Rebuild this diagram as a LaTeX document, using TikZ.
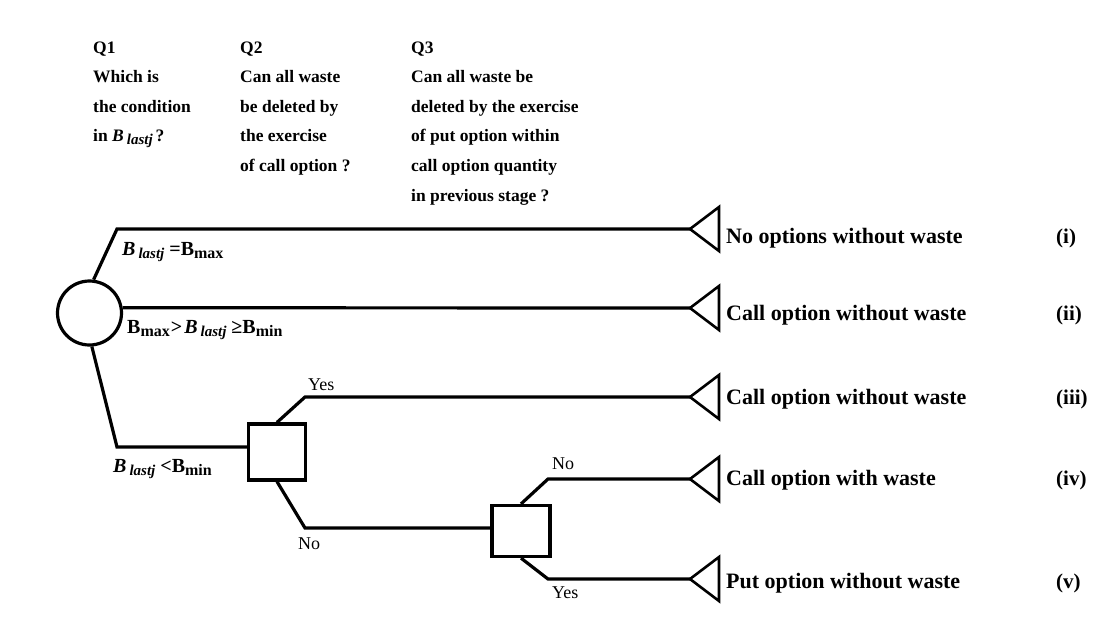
\documentclass[tikz,border=0pt]{standalone}
\usepackage{fontspec}
\setmainfont{Liberation Serif}
\newcommand\fsz[1]{\fontsize{#1}{#1}\selectfont}
% B with an italic "lastj" subscript
\newcommand\Blast{\textbf{\textit{B}}\hspace{3pt}\raisebox{-3pt}{\fsz{15}\textit{lastj}}\hspace{5pt}}
\newcommand\Bsub[1]{\textbf{B}\raisebox{-3pt}{\fsz{16}\textbf{#1}}}
\begin{document}
\begin{tikzpicture}[x=1pt,y=-1pt,
  branch/.style={line width=3.2pt,line join=miter},
  chance/.style={circle,draw,line width=3.2pt,minimum size=64pt,inner sep=0pt},
  choice/.style={rectangle,draw,line width=3.2pt,minimum width=57pt,minimum height=56pt,inner sep=0pt},
  endtri/.style={line width=2.6pt,line join=miter},
  hdr/.style={anchor=base west,inner sep=0pt,font=\fsz{17.5}\bfseries},
  cond/.style={anchor=base west,inner sep=0pt,font=\fsz{20}\bfseries},
  ans/.style={anchor=base west,inner sep=0pt,font=\fsz{18}},
  outc/.style={anchor=base west,inner sep=0pt,font=\fsz{22}\bfseries},
  tag/.style={anchor=base west,inner sep=0pt,font=\fsz{21}\bfseries}]
\useasboundingbox[fill=white] (0,0) rectangle (1103,640);

% question headers
\foreach \t [count=\i] in {Q1,Which is,the condition,{in \Blast\hspace{-2pt}?}}
  \node[hdr] (qa-\i) at (93,{53+29.6*(\i-1)}) {\t};
\foreach \t [count=\i] in {Q2,Can all waste,be deleted by,the exercise,of call option ?}
  \node[hdr] (qb-\i) at (240,{53+29.6*(\i-1)}) {\t};
\foreach \t [count=\i] in {Q3,Can all waste be,deleted by the exercise,of put option within,call option quantity,in previous stage ?}
  \node[hdr] (qc-\i) at (411,{53+29.6*(\i-1)}) {\t};

% decision nodes
\node[chance] (c) at (89.5,313) {};
\node[choice] (b1) at (277,452) {};
\node[choice,minimum width=58pt,minimum height=51pt] (b2) at (521,531) {};

% terminal tips
\coordinate (t1) at (690,229);
\coordinate (t2) at (690,308);
\coordinate (t3) at (690,397);
\coordinate (t4) at (690,479);
\coordinate (t5) at (690,579);
\foreach \k in {t1,t2,t3,t4,t5}
  \draw[endtri] (\k) -- ++(29,-22) -- ++(0,44) -- cycle;

% bends of the branches
\coordinate (k1) at (117,229);
\coordinate (k3) at (117,447);
\coordinate (k4) at (305,397);
\coordinate (k5) at (305,528);
\coordinate (k6) at (548,479);
\coordinate (k7) at (548,579);

% branches
\draw[branch] (c.83) -- (k1) -- (t1);
\draw[branch] (c.9) -- (t2);
\draw[branch] (c.-86) -- (k3) -- (k3 -| b1.west);
\draw[branch] (b1.north) -- (k4) -- (t3);
\draw[branch] (b1.south) -- (k5) -- (k5 -| b2.west);
\draw[branch] (b2.north) -- (k6) -- (t4);
\draw[branch] (b2.south) -- (k7) -- (t5);

% branch labels
\node[cond] (l1) at (122,255) {\Blast=\Bsub{max}};
\node[cond] (l2) at (127,333) {\Bsub{max}\hspace{1pt}>\hspace{2pt}\Blast≥\Bsub{min}};
\node[cond] (l3) at (113,472) {\Blast<\Bsub{min}};
\node[ans] (y1) at (308,390) {Yes};
\node[ans] (n1) at (298,549) {No};
\node[ans] (n2) at (552,469) {No};
\node[ans] (y2) at (552,598) {Yes};

% outcomes
\node[outc] (o1) at (726,243) {No options without waste};
\node[outc] (o2) at (726,320) {Call option without waste};
\node[outc] (o3) at (726,404) {Call option without waste};
\node[outc] (o4) at (726,485) {Call option with waste};
\node[outc] (o5) at (726,588) {Put option without waste};
\node[tag] (r1) at (1056,243) {(i)};
\node[tag] (r2) at (1056,320) {(ii)};
\node[tag] (r3) at (1056,404) {(iii)};
\node[tag] (r4) at (1056,485) {(iv)};
\node[tag] (r5) at (1056,588) {(v)};
\end{tikzpicture}
\end{document}
